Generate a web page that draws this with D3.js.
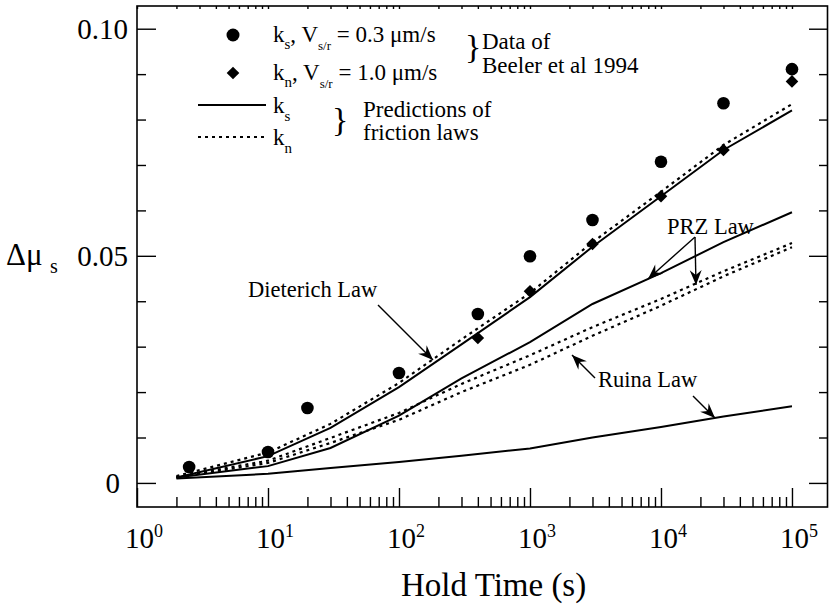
<!DOCTYPE html>
<html><head><meta charset="utf-8">
<script src="https://cdn.jsdelivr.net/npm/d3@7"></script>
<style>body{margin:0;background:#fff}svg{display:block}text{font-family:"Liberation Serif","Times New Roman",serif;fill:#000}</style>
</head><body>
<script>
// ---- data ----
const lineTimes = [2, 10, 30, 100, 300, 1000, 3000, 10000, 30000, 100000];
const dieterichKs = [0.0012, 0.0059, 0.0121, 0.0211, 0.0305, 0.0409, 0.0520, 0.0631, 0.0733, 0.0820];
const dieterichKn = [0.0015, 0.0067, 0.0130, 0.0220, 0.0316, 0.0418, 0.0530, 0.0641, 0.0744, 0.0834];
const przKs = [0.0012, 0.0037, 0.0077, 0.0148, 0.0230, 0.0310, 0.0394, 0.0462, 0.0530, 0.0596];
const przKn = [0.0013, 0.0049, 0.0099, 0.0154, 0.0218, 0.0281, 0.0343, 0.0405, 0.0466, 0.0528];
const ruinaKn = [0.0012, 0.0044, 0.0088, 0.0139, 0.0200, 0.0260, 0.0324, 0.0390, 0.0455, 0.0519];
const ruinaKs = [0.0010, 0.0020, 0.0033, 0.0046, 0.0060, 0.0076, 0.0100, 0.0123, 0.0146, 0.0169];

const ksTimes = [2.5, 10, 20, 100, 400, 1000, 3000, 10000, 30000, 100000];
const ksValues = [0.0035, 0.0068, 0.0165, 0.0242, 0.0372, 0.0499, 0.0579, 0.0707, 0.0836, 0.0911];
const knTimes = [400, 1000, 3000, 10000, 30000, 100000];
const knValues = [0.0319, 0.0422, 0.0526, 0.0631, 0.0733, 0.0884];

const xMajorTicks = [1, 10, 100, 1000, 10000, 100000];
const xTickExponents = ["0", "1", "2", "3", "4", "5"];
const yMajorTicks = [0, 0.05, 0.10];
const yTickLabels = ["0", "0.05", "0.10"];
const yMinorTicks = [0.01, 0.02, 0.03, 0.04, 0.06, 0.07, 0.08, 0.09];

// ---- setup ----
const W = 829, H = 613;
const L = 137, R = 828, T = 6, B = 507;
const svg = d3.select("body").append("svg").attr("width", W).attr("height", H);
const x = d3.scaleLog().domain([1, Math.pow(10, 5.275)]).range([L, R]);
const y = d3.scaleLinear().domain([-0.0053, 0.105]).range([B, T]);

const xMinorTicks = [];
xMajorTicks.slice(0, 5).forEach(d => { for (let m = 2; m <= 9; m++) xMinorTicks.push(d * m); });

function styleAxis(g) {
  g.select(".domain").remove();
  g.selectAll(".tick line").attr("stroke", "#000").attr("stroke-width", 1.4);
  g.selectAll(".tick text").remove();
}
// bottom
svg.append("g").attr("transform", `translate(0,${B})`).call(d3.axisBottom(x).tickValues(xMajorTicks).tickSize(-19)).call(styleAxis);
svg.append("g").attr("transform", `translate(0,${B})`).call(d3.axisBottom(x).tickValues(xMinorTicks).tickSize(-10)).call(styleAxis);
// top
svg.append("g").attr("transform", `translate(0,${T})`).call(d3.axisTop(x).tickValues(xMajorTicks.concat(xMinorTicks)).tickSize(-3)).call(styleAxis);
// left
svg.append("g").attr("transform", `translate(${L},0)`).call(d3.axisLeft(y).tickValues(yMajorTicks).tickSize(-19)).call(styleAxis);
svg.append("g").attr("transform", `translate(${L},0)`).call(d3.axisLeft(y).tickValues(yMinorTicks).tickSize(-9)).call(styleAxis);
// right
svg.append("g").attr("transform", `translate(${R},0)`).call(d3.axisRight(y).tickValues(yMajorTicks).tickSize(-19)).call(styleAxis);
svg.append("g").attr("transform", `translate(${R},0)`).call(d3.axisRight(y).tickValues(yMinorTicks).tickSize(-9)).call(styleAxis);

// frame
svg.append("rect").attr("x", L).attr("y", T).attr("width", R - L - 0.5).attr("height", B - T)
  .attr("fill", "none").attr("stroke", "#000").attr("stroke-width", 1.6);

// tick labels
xMajorTicks.forEach((d, i) => {
  const t = svg.append("text").attr("x", x(d) - 12).attr("y", 548).attr("font-size", 29);
  t.append("tspan").text("10");
  t.append("tspan").attr("font-size", 18).attr("dy", -11).text(xTickExponents[i]);
});
yMajorTicks.forEach((d, i) => {
  svg.append("text").attr("x", d === 0 ? 120 : 128).attr("y", y(d) + 10).attr("font-size", 29)
    .attr("text-anchor", "end").text(yTickLabels[i]);
});

// axis titles
svg.append("text").attr("x", 401).attr("y", 596).attr("font-size", 33).text("Hold Time (s)");
svg.append("text").attr("x", 6).attr("y", 265).attr("font-size", 31).text("Δμ");
svg.append("text").attr("x", 50).attr("y", 273).attr("font-size", 20).text("s");

// lines
const line = d3.line().x(d => x(d[0])).y(d => y(d[1]));
const series = [
  {v: dieterichKs, dash: null},
  {v: dieterichKn, dash: "3,4"},
  {v: przKs, dash: null},
  {v: przKn, dash: "3,4"},
  {v: ruinaKn, dash: "3,4"},
  {v: ruinaKs, dash: null}
];
series.forEach(s => {
  svg.append("path").datum(lineTimes.map((t, i) => [t, s.v[i]]))
    .attr("d", line).attr("fill", "none").attr("stroke", "#000")
    .attr("stroke-width", s.dash ? 2.2 : 2).attr("stroke-dasharray", s.dash);
});

// markers
svg.append("g").selectAll("circle").data(ksTimes.map((t, i) => [t, ksValues[i]])).join("circle")
  .attr("cx", d => x(d[0])).attr("cy", d => y(d[1])).attr("r", 6.3).attr("fill", "#000");
const diamond = (cx, cy, r) => `M${cx},${cy - r}L${cx + r},${cy}L${cx},${cy + r}L${cx - r},${cy}Z`;
svg.append("g").selectAll("path").data(knTimes.map((t, i) => [t, knValues[i]])).join("path")
  .attr("d", d => diamond(x(d[0]), y(d[1]), 6.3)).attr("fill", "#000");

// arrows
function arrow(x1, y1, x2, y2) {
  svg.append("line").attr("x1", x1).attr("y1", y1).attr("x2", x2).attr("y2", y2)
    .attr("stroke", "#000").attr("stroke-width", 1.4);
  const a = Math.atan2(y2 - y1, x2 - x1) * 180 / Math.PI;
  svg.append("path").attr("d", "M0,0L-15,-6L-10,0L-15,6Z").attr("fill", "#000")
    .attr("transform", `translate(${x2},${y2}) rotate(${a})`);
}
svg.append("text").attr("x", 248).attr("y", 297).attr("font-size", 22.5).text("Dieterich Law");
arrow(378, 305, 433, 360);
svg.append("text").attr("x", 667).attr("y", 234).attr("font-size", 22.5).text("PRZ Law");
arrow(695, 237, 648, 279);
arrow(695, 237, 696, 285);
svg.append("text").attr("x", 598).attr("y", 387).attr("font-size", 22.5).text("Ruina Law");
arrow(595, 378, 572, 355);
arrow(693, 396, 715, 418);

// legend
svg.append("circle").attr("cx", 233).attr("cy", 35).attr("r", 6.5).attr("fill", "#000");
svg.append("path").attr("d", diamond(233, 73, 6.3)).attr("fill", "#000");
function legendLine(xp, yp, parts) {
  const t = svg.append("text").attr("x", xp).attr("y", yp).attr("font-size", 23);
  parts.forEach(p => {
    t.append("tspan").attr("font-size", p.size || 23).attr("dy", p.dy || 0).text(p.t);
  });
}
legendLine(273, 42, [{t: "k"}, {t: "s", size: 15, dy: 7}, {t: ", V", dy: -7}, {t: "s/r", size: 13, dy: 8}, {t: " = 0.3 μm/s", dy: -8}]);
legendLine(273, 80, [{t: "k"}, {t: "n", size: 15, dy: 7}, {t: ", V", dy: -7}, {t: "s/r", size: 13, dy: 8}, {t: " = 1.0 μm/s", dy: -8}]);
svg.append("text").attr("x", 465).attr("y", 58).attr("font-size", 34).text("}");
svg.append("text").attr("x", 482).attr("y", 49).attr("font-size", 23).text("Data of");
svg.append("text").attr("x", 482).attr("y", 73).attr("font-size", 23).text("Beeler et al 1994");

svg.append("line").attr("x1", 198).attr("y1", 105).attr("x2", 266).attr("y2", 105).attr("stroke", "#000").attr("stroke-width", 2);
svg.append("line").attr("x1", 198).attr("y1", 137).attr("x2", 266).attr("y2", 137).attr("stroke", "#000").attr("stroke-width", 2).attr("stroke-dasharray", "3,4");
legendLine(273, 113, [{t: "k"}, {t: "s", size: 15, dy: 8}]);
legendLine(273, 145, [{t: "k"}, {t: "n", size: 15, dy: 8}]);
svg.append("text").attr("x", 332).attr("y", 131).attr("font-size", 34).text("}");
svg.append("text").attr("x", 363).attr("y", 117).attr("font-size", 23).text("Predictions of");
svg.append("text").attr("x", 363).attr("y", 140).attr("font-size", 23).text("friction laws");
</script>
</body></html>
